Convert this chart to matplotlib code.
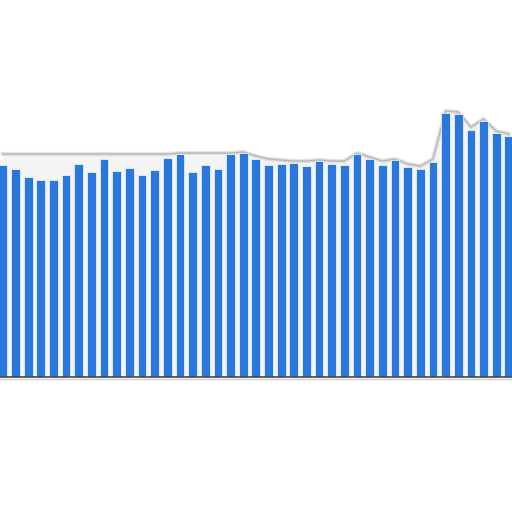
import matplotlib
matplotlib.use("Agg")
import matplotlib.pyplot as plt
import numpy as np

# bar heights (pixels above the baseline)
values = [212, 208, 200, 197, 197, 202, 213, 205, 218, 206,
          209, 202, 207, 219, 223, 205, 212, 208, 223, 224,
          218, 212, 213, 214, 211, 216, 213, 212, 223, 218,
          212, 217, 210, 208, 215, 264, 263, 247, 256, 244,
          241]
# top edge of the grey shadow band above the bars
shadow = [223, 223, 223, 223, 223, 223, 223, 223, 223, 223,
          223, 223, 223, 223, 224, 224, 224, 224, 224, 225,
          221, 218, 217, 216, 216, 217, 216, 216, 224, 220,
          216, 218, 213, 211, 218, 266, 265, 250, 258, 246,
          243]

x = np.arange(len(values))

fig = plt.figure(figsize=(5.12, 5.12), dpi=100)
ax = fig.add_axes([0, 0, 1, 1])

# soft grey shadow behind the bars
ax.fill_between(x, 0, shadow, color="#f4f4f4", zorder=1)
ax.plot(x, shadow, color="#d0d0d0", lw=3, alpha=0.6, zorder=1.4)
ax.plot(x, shadow, color="#b8b8b8", lw=1.0, zorder=1.5)

ax.bar(x, values, width=0.69, color="#2b78dc", edgecolor="#e6f2ff",
       linewidth=0.6, zorder=2)

ax.axhline(0, color="#4a4a4a", lw=1.2, zorder=3)
ax.axhline(-1.5, color="#cfcfcf", lw=1.0, zorder=3)

ax.set_xlim(-0.225, 40.25)
ax.set_ylim(-135, 377)
ax.axis("off")

fig.savefig("out.png", dpi=100, facecolor="white")
